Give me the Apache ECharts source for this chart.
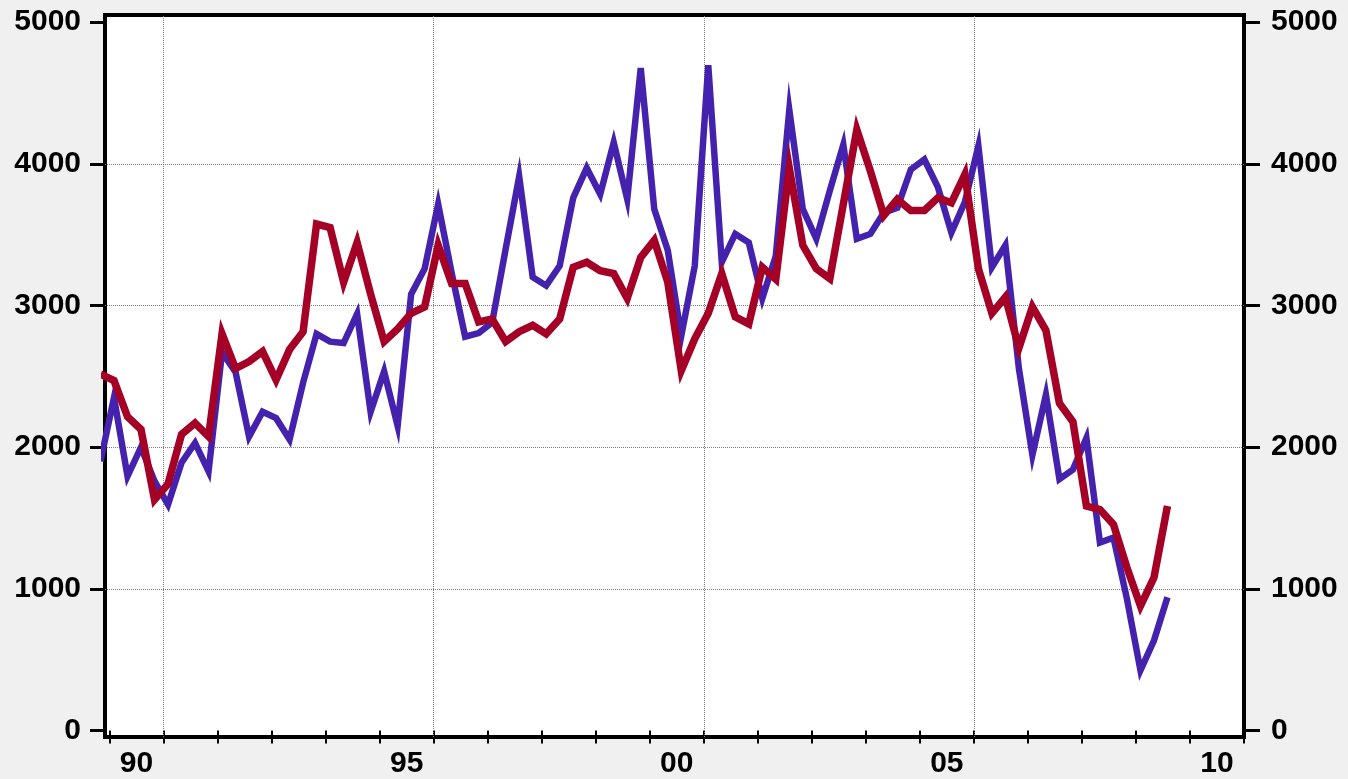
<!DOCTYPE html>
<html>
<head>
<meta charset="utf-8">
<script src="https://cdn.jsdelivr.net/npm/echarts@6/dist/echarts.min.js"></script>
<style>
  html, body { margin: 0; padding: 0; background: #f0f0f0; }
  #chart { width: 1348px; height: 779px; }
</style>
</head>
<body>
<div id="chart"></div>
<script>
// Quarterly periods (first one lies just before the axis start and is clipped)
const periods = [
  '1989Q4',
  '1990Q1','1990Q2','1990Q3','1990Q4','1991Q1','1991Q2','1991Q3','1991Q4',
  '1992Q1','1992Q2','1992Q3','1992Q4','1993Q1','1993Q2','1993Q3','1993Q4',
  '1994Q1','1994Q2','1994Q3','1994Q4','1995Q1','1995Q2','1995Q3','1995Q4',
  '1996Q1','1996Q2','1996Q3','1996Q4','1997Q1','1997Q2','1997Q3','1997Q4',
  '1998Q1','1998Q2','1998Q3','1998Q4','1999Q1','1999Q2','1999Q3','1999Q4',
  '2000Q1','2000Q2','2000Q3','2000Q4','2001Q1','2001Q2','2001Q3','2001Q4',
  '2002Q1','2002Q2','2002Q3','2002Q4','2003Q1','2003Q2','2003Q3','2003Q4',
  '2004Q1','2004Q2','2004Q3','2004Q4','2005Q1','2005Q2','2005Q3','2005Q4',
  '2006Q1','2006Q2','2006Q3','2006Q4','2007Q1','2007Q2','2007Q3','2007Q4',
  '2008Q1','2008Q2','2008Q3','2008Q4','2009Q1','2009Q2','2009Q3'
];

const blueSeries = [
  1900,
  2350, 1795, 2000, 1760, 1595, 1890, 2030, 1830,
  2670, 2530, 2075, 2250, 2205, 2055, 2455, 2800,
  2745, 2735, 2940, 2250, 2535, 2150, 3080, 3260,
  3715, 3230, 2780, 2805, 2880, 3400, 3910, 3200,
  3140, 3280, 3760, 3970, 3785, 4150, 3750, 4675,
  3680, 3390, 2785, 3280, 4695, 3305, 3505, 3445,
  3050, 3350, 4380, 3680, 3470, 3810, 4135, 3470,
  3505, 3655, 3690, 3960, 4030, 3835, 3515, 3730,
  4125, 3270, 3425, 2555, 1945, 2370, 1775, 1842,
  2065, 1327, 1362, 930, 426, 636, 941
];

const redSeries = [
  2515,
  2470, 2215, 2125, 1630, 1740, 2090, 2170, 2075,
  2800, 2555, 2605, 2675, 2475, 2690, 2815, 3575,
  3550, 3165, 3445, 3080, 2745, 2835, 2945, 2990,
  3425, 3155, 3155, 2885, 2905, 2745, 2815, 2860,
  2800, 2905, 3270, 3305, 3245, 3225, 3050, 3340,
  3460, 3165, 2540, 2765, 2945, 3225, 2920, 2870,
  3270, 3185, 3970, 3425, 3260, 3190, 3715, 4240,
  3950, 3635, 3750, 3670, 3670, 3760, 3725, 3925,
  3260, 2945, 3060, 2700, 2990, 2825, 2310, 2180,
  1585, 1560, 1455, 1150, 880, 1080, 1585
];

// Axis ticks / labels
const yearTicks = [1990,1991,1992,1993,1994,1995,1996,1997,1998,1999,2000,
                   2001,2002,2003,2004,2005,2006,2007,2008,2009,2010,2011];
const yearLabelYears = [1990, 1995, 2000, 2005, 2010];
const yTicks = [0, 1000, 2000, 3000, 4000, 5000];
const gridYears = [1991, 1996, 2001, 2006];
const gridValues = [1000, 2000, 3000, 4000];

// quarterly observation placed at the middle month of the quarter
function periodToYear(p) {
  const y = +p.slice(0, 4), q = +p.slice(5);
  return y + (q - 1) / 4 + 1 / 12;
}

const FONT = "'Liberation Sans', Arial, sans-serif";
const chart = echarts.init(document.getElementById('chart'), null, { renderer: 'canvas' });

const labelStyle = { fontSize: 30, fontWeight: 'bold', color: '#000', fontFamily: FONT };

const option = {
  backgroundColor: '#f0f0f0',
  animation: false,
  grid: {
    left: 105, right: 104, top: 15, bottom: 38,
    show: true, backgroundColor: '#ffffff', borderColor: '#000', borderWidth: 4
  },
  xAxis: {
    type: 'value',
    min: 1990 - 1 / 12,
    max: 2011,
    offset: 5,
    axisLine: { show: false },
    splitLine: { show: false },
    axisTick: { show: true, customValues: yearTicks, length: 13, lineStyle: { color: '#000', width: 2 } },
    axisLabel: Object.assign({
      customValues: yearLabelYears.map(y => y + 0.5),
      margin: 7,
      formatter: v => String(Math.floor(v) % 100).padStart(2, '0')
    }, labelStyle)
  },
  yAxis: [
    {
      type: 'value', position: 'left', min: -45, max: 5050,
      axisLine: { show: false },
      splitLine: { show: false },
      axisTick: { show: true, customValues: yTicks, length: 15, lineStyle: { color: '#000', width: 3 } },
      axisLabel: Object.assign({ customValues: yTicks, margin: 24, formatter: v => String(v) }, labelStyle)
    },
    {
      type: 'value', position: 'right', min: -45, max: 5050,
      axisLine: { show: false },
      splitLine: { show: false },
      axisTick: { show: true, customValues: yTicks, length: 16, lineStyle: { color: '#000', width: 3 } },
      axisLabel: Object.assign({ customValues: yTicks, margin: 27, formatter: v => String(v) }, labelStyle)
    }
  ],
  series: [
    {
      type: 'line',
      name: 'blue',
      data: periods.map((p, i) => [periodToYear(p), blueSeries[i]]),
      symbol: 'none',
      clip: true,
      lineStyle: { color: '#4422ae', width: 6.5, join: 'miter', cap: 'butt' },
      z: 3,
      markLine: {
        silent: true,
        symbol: ['none', 'none'],
        label: { show: false },
        lineStyle: { color: '#808080', type: 'dotted', width: 1 },
        data: gridYears.map(y => ({ xAxis: y })).concat(gridValues.map(v => ({ yAxis: v }))),
        z: 1
      }
    },
    {
      type: 'line',
      name: 'red',
      data: periods.map((p, i) => [periodToYear(p), redSeries[i]]),
      symbol: 'none',
      clip: true,
      lineStyle: { color: '#a50026', width: 7.5, join: 'miter', cap: 'butt' },
      z: 4
    }
  ]
};
chart.setOption(option);
</script>
</body>
</html>
